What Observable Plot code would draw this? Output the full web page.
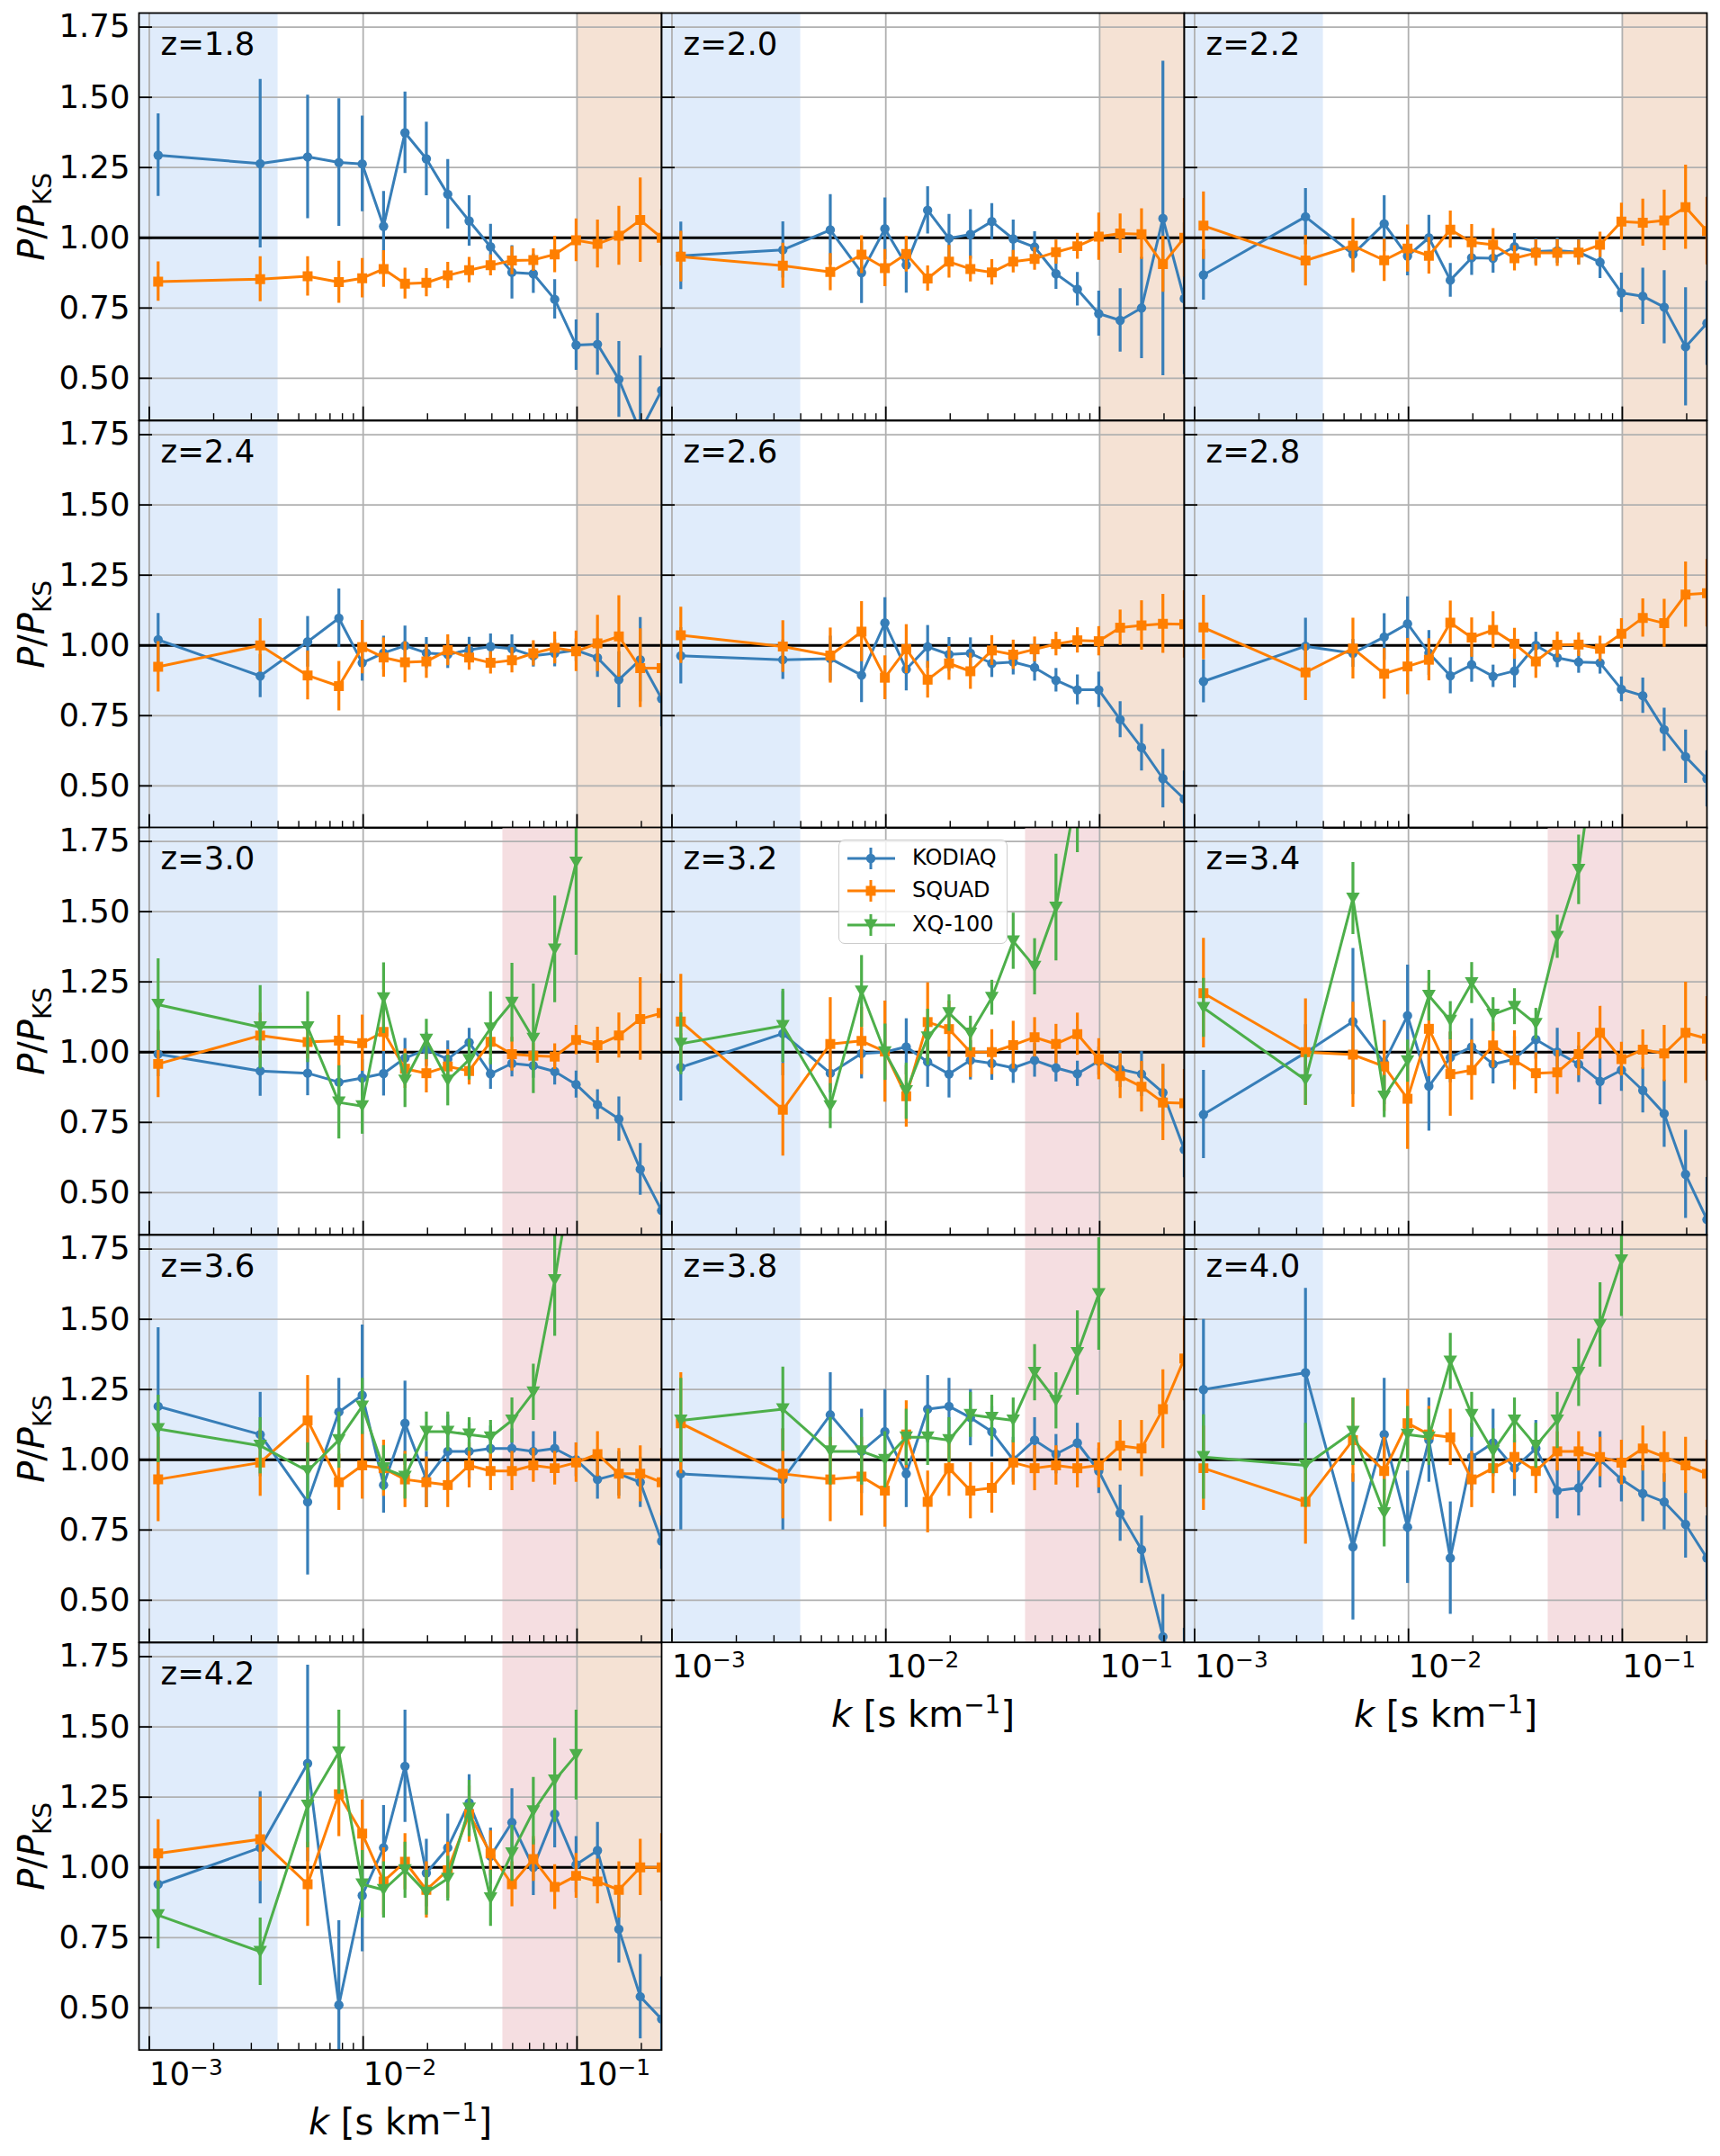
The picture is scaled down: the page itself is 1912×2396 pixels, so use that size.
<!DOCTYPE html>
<html>
<head>
<meta charset="utf-8">
<script src="https://cdn.jsdelivr.net/npm/d3@7"></script>
<script src="https://cdn.jsdelivr.net/npm/@observablehq/plot@0.6"></script>
<style>
  body { margin: 0; background: #ffffff; }
  #fig { position: relative; width: 1912px; height: 2396px; background: #ffffff; font-family: "DejaVu Sans", sans-serif; overflow: hidden; }
  #fig svg { position: absolute; }
  #legend { position: absolute; box-sizing: border-box; border: 1.8px solid #cccccc; border-radius: 7px; background: rgba(255,255,255,0.8); }
  #legend .lab { position: absolute; font-size: 24px; line-height: 24px; color: #000; white-space: nowrap; }
</style>
</head>
<body>
<div id="fig"></div>
<script>
// ---------------- data ----------------
const K = [0.0011, 0.0033, 0.0055, 0.0077, 0.0099, 0.01246, 0.01569, 0.01975, 0.02487, 0.03131,
           0.03942, 0.04963, 0.06248, 0.07866, 0.09903, 0.12467, 0.15695, 0.19759, 0.24875];
const Z_LABELS = ["z=1.8","z=2.0","z=2.2","z=2.4","z=2.6","z=2.8","z=3.0","z=3.2","z=3.4","z=3.6","z=3.8","z=4.0","z=4.2"];
const SERIES_NAMES = ["KODIAQ", "SQUAD", "XQ-100"];
const Y_TICKS = [0.5, 0.75, 1.0, 1.25, 1.5, 1.75];
const X_MAJOR = [0.001, 0.01, 0.1];
const X_MAJOR_LABELS = ["10^−3", "10^−2", "10^−1"];
const X_MINOR = [0.002,0.003,0.004,0.005,0.006,0.007,0.008,0.009,0.02,0.03,0.04,0.05,0.06,0.07,0.08,0.09,0.2];
const BAND_LOW_END = 0.004, BAND_XQ_START = 0.045, BAND_HIGH_START = 0.1;
const Y_LABEL = "P/PKS", X_LABEL = "k [s km^-1]";

// z = 1.8
const kodiaq_z18     = [1.294,1.264,1.288,1.268,1.263,1.041,1.374,1.281,1.155,1.060,0.968,0.877,0.872,0.781,0.618,0.621,0.496,0.31,0.457];
const kodiaq_z18_err = [0.147,0.30,0.22,0.227,0.17,0.124,0.145,0.131,0.124,0.09,0.08,0.095,0.07,0.07,0.09,0.11,0.135,0.27,0.15];
const squad_z18      = [0.844,0.853,0.863,0.842,0.856,0.889,0.837,0.840,0.866,0.885,0.902,0.919,0.921,0.941,0.991,0.978,1.007,1.063,1.0];
const squad_z18_err  = [0.07,0.08,0.07,0.075,0.07,0.065,0.055,0.05,0.047,0.045,0.037,0.05,0.04,0.065,0.076,0.085,0.105,0.15,0.1];
// z = 2.0
const kodiaq_z20     = [0.936,0.957,1.028,0.876,1.032,0.903,1.098,0.998,1.012,1.058,0.996,0.967,0.872,0.817,0.730,0.706,0.750,1.069,0.783];
const kodiaq_z20_err = [0.12,0.10,0.126,0.11,0.11,0.10,0.084,0.085,0.088,0.064,0.067,0.055,0.055,0.06,0.08,0.113,0.18,0.56,0.27];
const squad_z20      = [0.933,0.901,0.878,0.940,0.892,0.942,0.855,0.915,0.889,0.877,0.915,0.925,0.949,0.970,1.004,1.015,1.013,0.906,1.0];
const squad_z20_err  = [0.09,0.08,0.066,0.067,0.066,0.064,0.045,0.058,0.046,0.045,0.04,0.04,0.043,0.046,0.084,0.07,0.09,0.1,0.14];
// z = 2.2
const kodiaq_z22     = [0.868,1.075,0.941,1.050,0.935,1.000,0.849,0.929,0.927,0.968,0.951,0.954,0.949,0.913,0.804,0.792,0.753,0.612,0.696];
const kodiaq_z22_err = [0.09,0.1,0.06,0.1,0.07,0.08,0.06,0.063,0.053,0.047,0.045,0.045,0.045,0.058,0.07,0.1,0.13,0.21,0.15];
const squad_z22      = [1.043,0.919,0.972,0.920,0.962,0.936,1.029,0.984,0.975,0.927,0.946,0.946,0.947,0.975,1.058,1.054,1.062,1.109,1.024];
const squad_z22_err  = [0.12,0.09,0.097,0.075,0.084,0.065,0.066,0.063,0.058,0.045,0.047,0.048,0.045,0.045,0.065,0.084,0.108,0.15,0.12];
// z = 2.4
const kodiaq_z24     = [1.020,0.891,1.013,1.097,0.938,0.973,0.999,0.973,0.968,0.984,0.996,0.988,0.963,0.972,0.983,0.956,0.878,0.949,0.81];
const kodiaq_z24_err = [0.094,0.077,0.09,0.104,0.065,0.06,0.07,0.055,0.05,0.045,0.045,0.05,0.04,0.048,0.04,0.07,0.1,0.15,0.1];
const squad_z24      = [0.924,1.000,0.893,0.855,0.994,0.957,0.940,0.943,0.983,0.957,0.938,0.947,0.972,0.991,0.979,1.007,1.032,0.919,0.919];
const squad_z24_err  = [0.09,0.095,0.087,0.088,0.095,0.07,0.073,0.06,0.055,0.045,0.04,0.045,0.045,0.057,0.072,0.1,0.145,0.14,0.1];
// z = 2.6
const kodiaq_z26     = [0.963,0.949,0.953,0.894,1.080,0.915,0.995,0.968,0.972,0.936,0.941,0.921,0.876,0.842,0.842,0.736,0.636,0.526,0.453];
const kodiaq_z26_err = [0.1,0.07,0.08,0.097,0.09,0.077,0.076,0.06,0.055,0.05,0.046,0.048,0.042,0.053,0.063,0.064,0.083,0.104,0.1];
const squad_z26      = [1.036,0.996,0.964,1.049,0.885,0.987,0.878,0.936,0.908,0.982,0.967,0.986,1.005,1.018,1.015,1.063,1.071,1.077,1.075];
const squad_z26_err  = [0.1,0.092,0.098,0.107,0.078,0.087,0.065,0.06,0.064,0.053,0.052,0.044,0.042,0.045,0.052,0.063,0.088,0.105,0.12];
// z = 2.8
const kodiaq_z28     = [0.872,0.997,0.972,1.030,1.077,0.973,0.892,0.931,0.890,0.909,1.000,0.956,0.941,0.938,0.844,0.821,0.700,0.604,0.525];
const kodiaq_z28_err = [0.076,0.1,0.05,0.083,0.096,0.08,0.064,0.062,0.04,0.06,0.047,0.035,0.04,0.04,0.044,0.063,0.077,0.095,0.1];
const squad_z28      = [1.064,0.904,0.989,0.899,0.925,0.949,1.081,1.028,1.055,1.006,0.943,1.002,1.003,0.988,1.042,1.098,1.079,1.181,1.186];
const squad_z28_err  = [0.115,0.1,0.108,0.09,0.1,0.075,0.077,0.07,0.065,0.055,0.06,0.046,0.042,0.045,0.053,0.068,0.085,0.116,0.12];
// z = 3.0
const kodiaq_z30     = [0.993,0.933,0.925,0.893,0.908,0.924,0.979,1.009,0.975,1.035,0.923,0.960,0.952,0.931,0.885,0.813,0.762,0.583,0.436];
const kodiaq_z30_err = [0.08,0.09,0.08,0.06,0.065,0.08,0.07,0.06,0.065,0.05,0.055,0.048,0.045,0.048,0.048,0.053,0.079,0.092,0.1];
const squad_z30      = [0.958,1.059,1.036,1.041,1.032,1.072,0.941,0.925,0.949,0.933,1.037,0.993,0.987,0.984,1.043,1.025,1.059,1.118,1.139];
const squad_z30_err  = [0.12,0.08,0.06,0.09,0.1,0.07,0.07,0.07,0.06,0.05,0.047,0.06,0.045,0.046,0.052,0.064,0.08,0.147,0.14];
const xq_z30         = [1.169,1.089,1.089,0.821,0.808,1.192,0.899,1.045,0.899,0.973,1.085,1.176,1.048,1.366,1.675];
const xq_z30_err     = [0.163,0.148,0.126,0.13,0.1,0.126,0.096,0.072,0.09,0.072,0.13,0.14,0.195,0.19,0.33];
// z = 3.2
const kodiaq_z32     = [0.946,1.066,0.925,0.995,1.000,1.019,0.965,0.922,0.971,0.960,0.944,0.971,0.944,0.923,0.968,0.939,0.922,0.856,0.653];
const kodiaq_z32_err = [0.12,0.15,0.07,0.09,0.1,0.1,0.09,0.085,0.07,0.06,0.055,0.06,0.05,0.045,0.05,0.065,0.08,0.1,0.1];
const squad_z32      = [1.109,0.795,1.029,1.040,1.002,0.843,1.107,1.082,1.000,1.000,1.025,1.053,1.029,1.064,0.975,0.915,0.877,0.821,0.818];
const squad_z32_err  = [0.168,0.165,0.165,0.12,0.18,0.11,0.14,0.1,0.09,0.08,0.085,0.07,0.07,0.075,0.073,0.08,0.09,0.136,0.12];
const xq_z32         = [1.030,1.094,0.808,1.216,1.000,0.861,1.053,1.139,1.066,1.194,1.395,1.304,1.515,1.94,2.3];
const xq_z32_err     = [0.11,0.13,0.08,0.128,0.1,0.1,0.1,0.065,0.062,0.062,0.1,0.1,0.19,0.23,0.3];
// z = 3.4
const kodiaq_z34     = [0.778,0.998,1.109,0.963,1.130,0.879,0.981,1.019,0.957,0.975,1.045,1.000,0.957,0.896,0.936,0.864,0.781,0.565,0.404];
const kodiaq_z34_err = [0.157,0.1,0.26,0.15,0.18,0.16,0.09,0.1,0.07,0.08,0.07,0.085,0.065,0.083,0.075,0.08,0.12,0.157,0.15];
const squad_z34      = [1.210,1.000,0.991,0.949,0.834,1.083,0.922,0.936,1.024,0.971,0.925,0.928,0.993,1.069,0.975,1.009,0.995,1.069,1.048];
const squad_z34_err  = [0.195,0.19,0.187,0.16,0.18,0.17,0.15,0.107,0.08,0.105,0.073,0.078,0.077,0.094,0.06,0.07,0.1,0.18,0.15];
const xq_z34         = [1.158,0.901,1.547,0.842,0.968,1.201,1.112,1.246,1.134,1.162,1.101,1.411,1.649,2.2,2.6];
const xq_z34_err     = [0.105,0.09,0.128,0.075,0.075,0.09,0.068,0.073,0.06,0.064,0.055,0.077,0.124,0.3,0.3];
// z = 3.6
const kodiaq_z36     = [1.19,1.09,0.85,1.17,1.23,0.91,1.13,0.93,1.03,1.03,1.04,1.04,1.03,1.04,1.00,0.93,0.95,0.92,0.71];
const kodiaq_z36_err = [0.28,0.15,0.26,0.12,0.25,0.1,0.15,0.1,0.13,0.1,0.08,0.07,0.07,0.06,0.06,0.07,0.08,0.09,0.1];
const squad_z36      = [0.93,0.99,1.14,0.92,0.98,0.97,0.93,0.92,0.91,0.98,0.96,0.96,0.98,0.97,0.99,1.02,0.95,0.95,0.92];
const squad_z36_err  = [0.15,0.12,0.16,0.1,0.12,0.1,0.1,0.09,0.08,0.08,0.07,0.07,0.06,0.06,0.07,0.08,0.09,0.1,0.12];
const xq_z36         = [1.11,1.05,0.96,1.07,1.19,0.97,0.94,1.10,1.10,1.09,1.08,1.14,1.24,1.64,2.1];
const xq_z36_err     = [0.12,0.1,0.1,0.1,0.1,0.08,0.08,0.07,0.07,0.06,0.06,0.08,0.1,0.2,0.3];
// z = 3.8
const kodiaq_z38     = [0.95,0.93,1.16,1.03,1.10,0.95,1.18,1.19,1.15,1.10,1.00,1.07,1.02,1.06,0.96,0.81,0.68,0.37,0.2];
const kodiaq_z38_err = [0.2,0.18,0.15,0.15,0.15,0.12,0.12,0.1,0.1,0.09,0.08,0.08,0.07,0.07,0.08,0.1,0.12,0.15,0.2];
const squad_z38      = [1.13,0.95,0.93,0.94,0.89,1.09,0.85,0.97,0.89,0.90,0.99,0.97,0.98,0.97,0.98,1.05,1.04,1.18,1.36];
const squad_z38_err  = [0.18,0.16,0.15,0.14,0.13,0.12,0.11,0.1,0.1,0.09,0.08,0.08,0.07,0.07,0.08,0.09,0.1,0.14,0.15];
const xq_z38         = [1.14,1.18,1.03,1.03,1.00,1.08,1.08,1.07,1.16,1.15,1.14,1.31,1.21,1.38,1.59];
const xq_z38_err     = [0.15,0.15,0.12,0.12,0.1,0.1,0.1,0.08,0.08,0.08,0.08,0.1,0.1,0.15,0.2];
// z = 4.0
const kodiaq_z40     = [1.25,1.31,0.69,1.09,0.76,1.07,0.65,1.01,1.06,0.97,1.04,0.89,0.90,1.00,0.93,0.88,0.85,0.77,0.65];
const kodiaq_z40_err = [0.25,0.3,0.26,0.2,0.2,0.15,0.2,0.12,0.12,0.1,0.1,0.1,0.1,0.1,0.08,0.1,0.1,0.12,0.15];
const squad_z40      = [0.97,0.85,1.07,0.96,1.13,1.09,1.08,0.93,0.97,1.01,0.96,1.03,1.03,1.01,0.99,1.04,1.01,0.98,0.95];
const squad_z40_err  = [0.15,0.15,0.15,0.12,0.12,0.1,0.1,0.1,0.09,0.08,0.08,0.07,0.07,0.07,0.08,0.08,0.09,0.1,0.12];
const xq_z40         = [1.01,0.98,1.10,0.81,1.09,1.08,1.35,1.16,1.03,1.14,1.05,1.14,1.31,1.48,1.71];
const xq_z40_err     = [0.15,0.15,0.12,0.12,0.1,0.1,0.1,0.08,0.08,0.08,0.08,0.1,0.12,0.15,0.2];
// z = 4.2
const kodiaq_z42     = [0.94,1.07,1.37,0.51,0.90,1.07,1.36,0.98,1.07,1.23,1.04,1.16,1.00,1.19,1.01,1.06,0.78,0.54,0.46];
const kodiaq_z42_err = [0.12,0.2,0.35,0.3,0.2,0.15,0.2,0.12,0.12,0.1,0.1,0.12,0.1,0.12,0.1,0.1,0.12,0.15,0.15];
const squad_z42      = [1.05,1.10,0.94,1.26,1.12,0.95,1.02,0.92,0.99,1.19,1.05,0.94,1.03,0.93,0.97,0.95,0.92,1.00,1.00];
const squad_z42_err  = [0.12,0.15,0.15,0.15,0.12,0.12,0.1,0.1,0.1,0.1,0.08,0.08,0.08,0.08,0.08,0.08,0.1,0.1,0.12];
const xq_z42         = [0.83,0.70,1.22,1.41,0.94,0.92,0.99,0.91,0.96,1.21,0.89,1.05,1.20,1.31,1.40];
const xq_z42_err     = [0.12,0.12,0.15,0.15,0.12,0.1,0.1,0.08,0.08,0.1,0.1,0.1,0.12,0.15,0.16];

// ---------------- assembly ----------------
const KODIAQ_ALL = [[kodiaq_z18,kodiaq_z18_err],[kodiaq_z20,kodiaq_z20_err],[kodiaq_z22,kodiaq_z22_err],[kodiaq_z24,kodiaq_z24_err],
  [kodiaq_z26,kodiaq_z26_err],[kodiaq_z28,kodiaq_z28_err],[kodiaq_z30,kodiaq_z30_err],[kodiaq_z32,kodiaq_z32_err],[kodiaq_z34,kodiaq_z34_err],
  [kodiaq_z36,kodiaq_z36_err],[kodiaq_z38,kodiaq_z38_err],[kodiaq_z40,kodiaq_z40_err],[kodiaq_z42,kodiaq_z42_err]];
const SQUAD_ALL = [[squad_z18,squad_z18_err],[squad_z20,squad_z20_err],[squad_z22,squad_z22_err],[squad_z24,squad_z24_err],
  [squad_z26,squad_z26_err],[squad_z28,squad_z28_err],[squad_z30,squad_z30_err],[squad_z32,squad_z32_err],[squad_z34,squad_z34_err],
  [squad_z36,squad_z36_err],[squad_z38,squad_z38_err],[squad_z40,squad_z40_err],[squad_z42,squad_z42_err]];
const XQ_ALL = [null,null,null,null,null,null,[xq_z30,xq_z30_err],[xq_z32,xq_z32_err],[xq_z34,xq_z34_err],
  [xq_z36,xq_z36_err],[xq_z38,xq_z38_err],[xq_z40,xq_z40_err],[xq_z42,xq_z42_err]];

// ---------------- style / layout ----------------
const COLORS = ["#377eb8", "#ff7f00", "#4daf4a"];
const BAND_BLUE = "#e0ecfb", BAND_PINK = "#f5dee1", BAND_ORANGE = "#f5e2d4";
const GRID = "#b0b0b0";
const FONT = "DejaVu Sans";
const COL_LEFT = [154, 735, 1316];
const ROW_TOP = [14, 466.7, 919.3, 1372, 1824.7];
const W = 581, H = 452.7;
const XDOM = [0.000895, 0.24875], YDOM = [0.35, 1.8];

const triDown = {
  draw(ctx, size) {
    const r = Math.sqrt(size / Math.PI);
    ctx.moveTo(-r, -0.86 * r);
    ctx.lineTo(r, -0.86 * r);
    ctx.lineTo(0, 0.86 * r);
    ctx.closePath();
  }
};
const SYMBOLS = ["circle", "square", triDown];
const RADII = [5.2, 6.2, 7.6];

function richify(svg) {
  d3.select(svg).selectAll("text").each(function () {
    const t = this.textContent;
    const s = d3.select(this);
    let m;
    if ((m = /^10\^(.+)$/.exec(t))) {
      s.text(null);
      s.append("tspan").text("10");
      s.append("tspan").attr("dy", -11).attr("font-size", 24.8).text(m[1]);
    } else if (t === Y_LABEL) {
      s.text(null);
      s.append("tspan").attr("font-style", "italic").text("P");
      s.append("tspan").text("/");
      s.append("tspan").attr("font-style", "italic").text("P");
      s.append("tspan").attr("dy", 8).attr("font-size", 28).text("KS");
    } else if (t === X_LABEL) {
      s.text(null);
      s.append("tspan").attr("font-style", "italic").text("k");
      s.append("tspan").text(" [s km");
      s.append("tspan").attr("dy", -15).attr("font-size", 28).text("−1");
      s.append("tspan").attr("dy", 15).text("]");
    }
  });
}

const fig = document.getElementById("fig");

Z_LABELS.forEach((zlab, i) => {
  const col = i % 3, row = Math.floor(i / 3);
  const isLeft = col === 0;
  const isBottom = row === 4 || (row === 3 && col > 0);
  const mL = isLeft ? 170 : 12, mR = 12, mT = 12, mB = isBottom ? 130 : 12;

  const series = [];
  [KODIAQ_ALL[i], SQUAD_ALL[i], XQ_ALL[i]].forEach((s, j) => {
    if (!s) return;
    const data = s[0].map((v, n) => ({k: K[n], v, lo: v - s[1][n], hi: v + s[1][n]}));
    series.push({j, data});
  });

  const bands = [{x1: XDOM[0], x2: BAND_LOW_END, fill: BAND_BLUE}];
  if (XQ_ALL[i]) bands.push({x1: BAND_XQ_START, x2: BAND_HIGH_START, fill: BAND_PINK});
  bands.push({x1: BAND_HIGH_START, x2: XDOM[1], fill: BAND_ORANGE});

  const marks = [];
  bands.forEach(b => marks.push(Plot.rect([b], {x1: "x1", x2: "x2", fill: b.fill, clip: true})));
  marks.push(Plot.ruleX(X_MAJOR, {x: d => d, stroke: GRID, strokeWidth: 1.8}));
  marks.push(Plot.ruleY(Y_TICKS, {y: d => d, stroke: GRID, strokeWidth: 1.8}));
  marks.push(Plot.ruleY([1], {y: d => d, stroke: "black", strokeWidth: 3.2}));
  series.forEach(({j, data}) => {
    marks.push(Plot.ruleX(data, {x: "k", y1: "lo", y2: "hi", stroke: COLORS[j], strokeWidth: 3.2, clip: true}));
    marks.push(Plot.line(data, {x: "k", y: "v", stroke: COLORS[j], strokeWidth: 3.0, clip: true}));
    marks.push(Plot.dot(data, {x: "k", y: "v", fill: COLORS[j], stroke: "none", r: RADII[j], symbol: SYMBOLS[j], clip: true}));
  });
  marks.push(Plot.tickX(X_MAJOR, {x: d => d, stroke: "black", strokeWidth: 1.8, insetTop: H - 15}));
  marks.push(Plot.tickX(X_MINOR, {x: d => d, stroke: "black", strokeWidth: 1.4, insetTop: H - 7.5}));
  marks.push(Plot.tickY(Y_TICKS, {y: d => d, stroke: "black", strokeWidth: 1.8, insetRight: W - 15}));
  marks.push(Plot.frame({stroke: "black", strokeWidth: 1.8}));
  marks.push(Plot.text([zlab], {text: d => d, frameAnchor: "top-left", dx: 24, dy: 47, lineAnchor: "bottom", textAnchor: "start", fontSize: 35.5, fill: "black"}));
  if (isLeft) {
    marks.push(Plot.text(Y_TICKS, {y: d => d, text: d => d.toFixed(2), frameAnchor: "left", dx: -10, textAnchor: "end", fontSize: 35.5, fill: "black"}));
    marks.push(Plot.text([Y_LABEL], {text: d => d, frameAnchor: "left", dx: -105.5, rotate: -90, lineAnchor: "bottom", textAnchor: "middle", fontSize: 40, fill: "black"}));
  }
  if (isBottom) {
    marks.push(Plot.text(X_MAJOR, {x: d => d, text: (d, n) => X_MAJOR_LABELS[n], frameAnchor: "bottom", dy: 38.5, lineAnchor: "bottom", textAnchor: "start", fontSize: 35.5, fill: "black"}));
    marks.push(Plot.text([X_LABEL], {text: d => d, frameAnchor: "bottom", dy: 94, lineAnchor: "bottom", textAnchor: "middle", fontSize: 40, fill: "black"}));
  }

  const svg = Plot.plot({
    width: W + mL + mR, height: H + mT + mB,
    marginLeft: mL, marginRight: mR, marginTop: mT, marginBottom: mB,
    x: {type: "log", domain: XDOM, axis: null},
    y: {domain: YDOM, axis: null},
    style: {background: "transparent", overflow: "visible", fontFamily: FONT},
    marks
  });
  svg.style.left = (COL_LEFT[col] - mL) + "px";
  svg.style.top = (ROW_TOP[row] - mT) + "px";
  richify(svg);
  fig.appendChild(svg);
});

// ---------------- legend (panel z=3.2) ----------------
const legend = d3.select(fig).append("div").attr("id", "legend")
  .style("left", "932px").style("top", "933px").style("width", "188px").style("height", "116px");
const ROW_Y = [20, 56, 94];
SERIES_NAMES.forEach((name, j) => {
  const g = legend.append("svg").attr("width", 70).attr("height", 30)
    .style("position", "absolute").style("left", "0px").style("top", (ROW_Y[j] - 15) + "px").style("overflow", "visible");
  g.append("line").attr("x1", 9).attr("x2", 62).attr("y1", 15).attr("y2", 15).attr("stroke", COLORS[j]).attr("stroke-width", 3);
  g.append("line").attr("x1", 35).attr("x2", 35).attr("y1", 3).attr("y2", 27).attr("stroke", COLORS[j]).attr("stroke-width", 3);
  const sym = d3.symbol().type(j === 0 ? d3.symbolCircle : j === 1 ? d3.symbolSquare : triDown)
    .size(Math.PI * RADII[j] * RADII[j]);
  g.append("path").attr("d", sym()).attr("transform", "translate(35,15)").attr("fill", COLORS[j]);
  legend.append("div").attr("class", "lab").style("left", "81px").style("top", (ROW_Y[j] - 13) + "px").text(name);
});
</script>
</body>
</html>
